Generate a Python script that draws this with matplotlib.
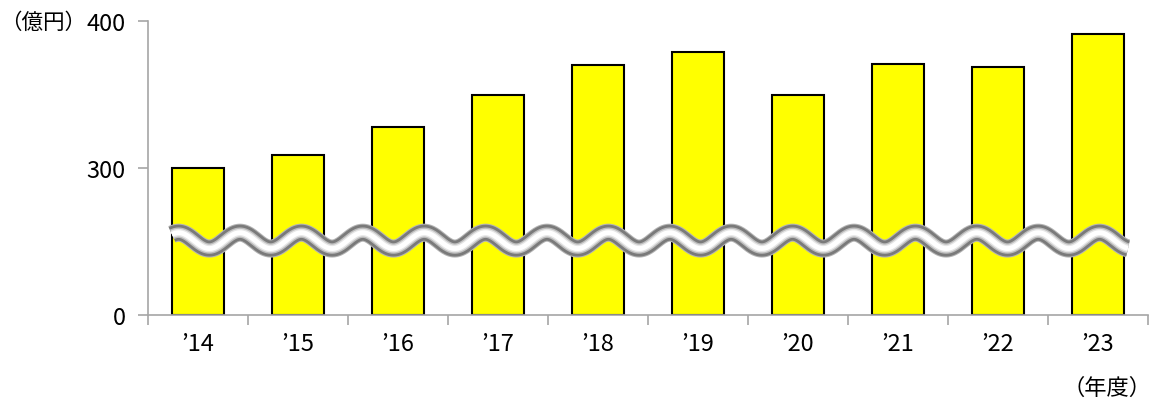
import numpy as np
import matplotlib
matplotlib.use("Agg")
import matplotlib.pyplot as plt
import matplotlib.transforms as mtransforms

plt.rcParams['font.family'] = ['Noto Sans CJK JP', 'DejaVu Sans']

# data (億円)
years = ["’14", "’15", "’16", "’17", "’18", "’19", "’20", "’21", "’22", "’23"]
sales = [300, 309, 328, 350, 370, 379, 350, 371, 369, 391]
yticks = [0, 300, 400]

# broken axis: 0-300 squeezed into the lower half, 300-400 the upper half
def fwd(v):
    v = np.asarray(v, dtype=float)
    return np.where(v <= 300, v / 3.0, v - 200.0)

def inv(u):
    u = np.asarray(u, dtype=float)
    return np.where(u <= 100, u * 3.0, u + 200.0)

fig = plt.figure(figsize=(11.53, 4.06), dpi=100)
ax = fig.add_axes([148 / 1153, (406 - 316) / 406, 1000 / 1153, 294 / 406])

x = np.arange(len(years))
ax.bar(x, sales, width=0.52, color="#FFFF00", edgecolor="black", linewidth=1.5, zorder=2)

ax.set_yscale("function", functions=(fwd, inv))
ax.set_ylim(0, 400)
ax.set_xlim(-0.5, len(years) - 0.5)
ax.set_yticks(yticks)
ax.set_yticklabels([str(t) for t in yticks])
ax.set_xticks(x)
ax.set_xticklabels(years)
ax.set_xticks(np.arange(-0.5, len(years)), minor=True)

for s in ["top", "right"]:
    ax.spines[s].set_visible(False)
for s in ["left", "bottom"]:
    ax.spines[s].set_color("#a6a6a6")
    ax.spines[s].set_linewidth(1.2)

ax.tick_params(axis="y", direction="out", length=7, width=1.2, color="#a6a6a6",
               labelsize=17, pad=9)
ax.tick_params(axis="x", which="major", length=0, labelsize=17, pad=12)
ax.tick_params(axis="x", which="minor", direction="out", length=7, width=1.2, color="#a6a6a6")

# wavy break mark
trans = mtransforms.blended_transform_factory(ax.transData, ax.transAxes)
wx = np.linspace(-0.26, 9.30, 1200)
wy = 0.253 + 0.027 * np.cos(2 * np.pi * (wx - 0.42) / 0.614)
for lw, c in [(13.0, "#b4b4b4"), (11.5, "#7a7a7a"), (7.5, "#bcbcbc"), (5.5, "#e6e6e6"), (3.5, "white")]:
    ax.plot(wx, wy, color=c, lw=lw, transform=trans, clip_on=False, zorder=3,
            solid_capstyle="butt")

fig.text(86 / 1153, 1 - 23 / 406, "（億円）", fontsize=15.5, ha="right", va="center")
fig.text(1152 / 1153, 1 - 388 / 406, "（年度）", fontsize=16, ha="right", va="center")

fig.savefig("out.png", dpi=100)
